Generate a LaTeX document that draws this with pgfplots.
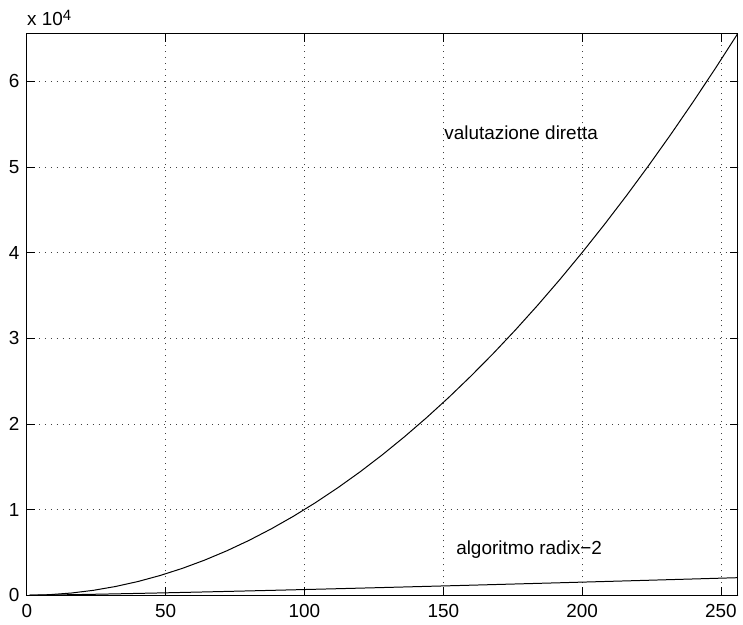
\documentclass[border=0pt]{standalone}
\usepackage{fontspec}
\setmainfont{Liberation Sans}
\usepackage{pgfplots}
\pgfplotsset{compat=1.18}

\begin{document}
\fontsize{19}{22}\selectfont
\begin{tikzpicture}
\begin{axis}[
  scale only axis,
  width=714pt,height=564pt,
  xmin=0,xmax=256,ymin=0,ymax=65536,
  xtick={0,50,...,250},
  ytick={0,10000,...,60000},
  yticklabels={0,1,2,3,4,5,6},
  scaled y ticks=false,
  /pgf/number format/assume math mode=true,
  tick label style={font=\fontsize{19}{22}\selectfont},
  xticklabel style={yshift=-3pt},
  yticklabel style={xshift=-1pt},
  tick align=inside,
  major tick length=8pt,
  tick style={black,line width=0.8pt},
  axis line style={line width=1.2pt},
  grid=major,
  major grid style={dash pattern=on 1pt off 5pt,line width=0.8pt,black!75},
  clip=false,
]
% direct evaluation: N^2
\addplot[black,line width=1pt] coordinates {
(1,1) (8,64) (16,256) (24,576) (32,1024) (40,1600) (48,2304) (56,3136)
(64,4096) (72,5184) (80,6400) (88,7744) (96,9216) (104,10816) (112,12544)
(120,14400) (128,16384) (136,18496) (144,20736) (152,23104) (160,25600)
(168,28224) (176,30976) (184,33856) (192,36864) (200,40000) (208,43264)
(216,46656) (224,50176) (232,53824) (240,57600) (248,61504) (256,65536)
};
% radix-2: N log2 N
\addplot[black,line width=1pt] coordinates {
(1,0) (2,2) (4,8) (8,24) (16,64) (24,110) (32,160) (48,268.1) (64,384)
(80,505.8) (96,632.2) (112,762.4) (128,896) (160,1171.5) (192,1456.3)
(224,1748.8) (256,2048)
};
\node[anchor=west,inner sep=0pt] at (axis cs:150.3,54000) {valutazione diretta};
\node[anchor=west,inner sep=0pt] at (axis cs:154.6,5350) {algoritmo radix\textminus2};
\node[anchor=base west,inner sep=0pt] at ([yshift=8pt]rel axis cs:0,1) {x 10\raisebox{0.55ex}{\fontsize{15}{17}\selectfont 4}};
\end{axis}
\path (current axis.south west) ++(-27pt,-29pt) (current axis.north east) ++(2pt,34pt);
\end{tikzpicture}
\end{document}
